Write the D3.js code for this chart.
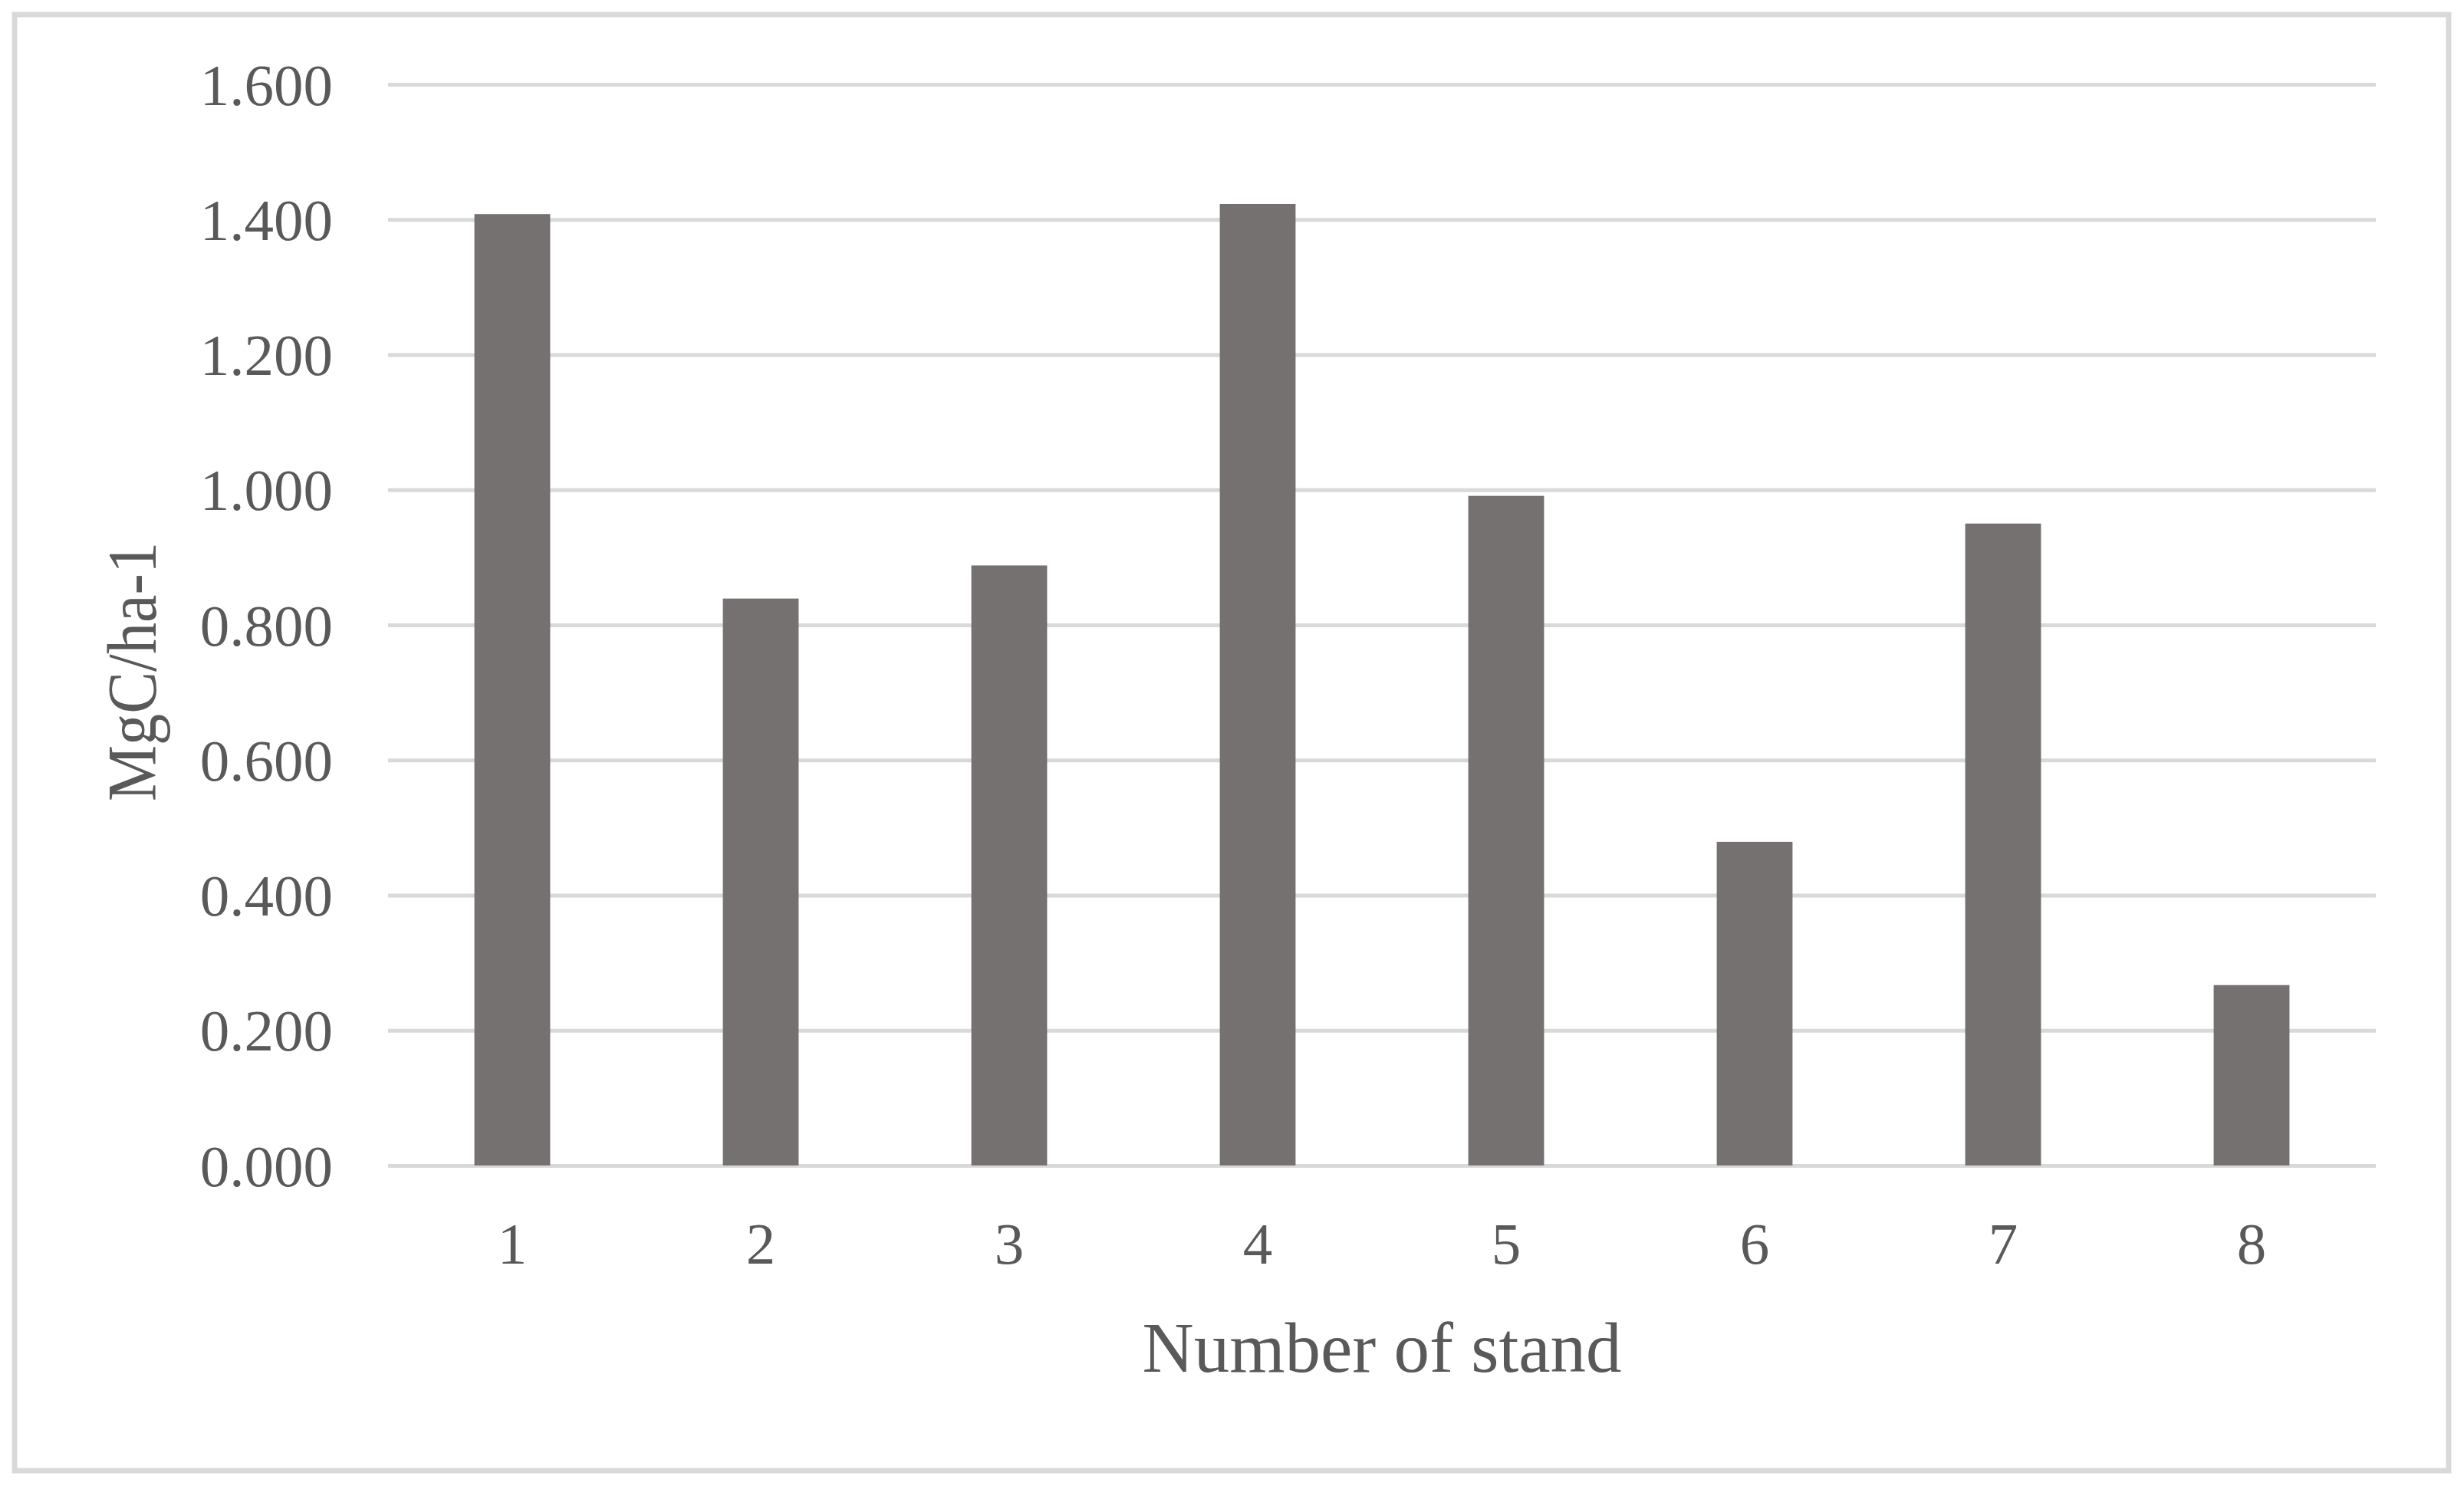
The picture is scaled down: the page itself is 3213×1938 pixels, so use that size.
<!DOCTYPE html>
<html>
<head>
<meta charset="utf-8">
<script src="https://cdn.jsdelivr.net/npm/d3@7"></script>
<style>
  html, body { margin: 0; padding: 0; background: #ffffff; }
  svg { display: block; }
</style>
</head>
<body>
<div id="chart"></div>
<script>
// ---- data ----
const categories = ["1", "2", "3", "4", "5", "6", "7", "8"];
const values = [1.408, 0.839, 0.888, 1.423, 0.991, 0.479, 0.950, 0.267];
const yTicks = [0, 0.2, 0.4, 0.6, 0.8, 1.0, 1.2, 1.4, 1.6];
const xTitle = "Number of stand";
const yTitle = "MgC/ha-1";

// ---- layout ----
const W = 3213, H = 1938;
const plotLeft = 506, plotRight = 3098, plotTop = 110, plotBottom = 1520;
const textColor = "#595959";
const gridColor = "#d9d9d9";
const barColor = "#767171";
const fontFamily = "'Liberation Serif', 'DejaVu Serif', serif";

const svg = d3.select("#chart").append("svg")
  .attr("width", W).attr("height", H);

// outer border
svg.append("rect")
  .attr("x", 19).attr("y", 19)
  .attr("width", 3174).attr("height", 1899)
  .attr("fill", "#ffffff")
  .attr("stroke", gridColor)
  .attr("stroke-width", 7);

const x = d3.scaleBand()
  .domain(categories)
  .range([plotLeft, plotRight])
  .paddingInner(0.695)
  .paddingOuter(0.3475);

const y = d3.scaleLinear()
  .domain([0, 1.6])
  .range([plotBottom, plotTop]);

// gridlines via axis
const yAxis = d3.axisLeft(y)
  .tickValues(yTicks)
  .tickSize(-(plotRight - plotLeft))
  .tickPadding(72)
  .tickFormat(d3.format(".3f"));

const gy = svg.append("g")
  .attr("transform", `translate(${plotLeft},0)`)
  .call(yAxis);
gy.select(".domain").remove();
gy.selectAll(".tick line")
  .attr("stroke", gridColor)
  .attr("stroke-width", 5);
gy.selectAll(".tick text")
  .attr("fill", textColor)
  .attr("font-family", fontFamily)
  .attr("font-size", 77)
  .attr("dy", "0.34em");

// bars
svg.append("g")
  .selectAll("rect")
  .data(values)
  .join("rect")
  .attr("x", (d, i) => x(categories[i]))
  .attr("y", d => y(d))
  .attr("width", x.bandwidth())
  .attr("height", d => y(0) - y(d))
  .attr("fill", barColor);

// x axis labels
const xAxis = d3.axisBottom(x).tickSize(0).tickPadding(0);
const gx = svg.append("g")
  .attr("transform", `translate(0,${plotBottom})`)
  .call(xAxis);
gx.select(".domain").remove();
gx.selectAll(".tick text")
  .attr("fill", textColor)
  .attr("font-family", fontFamily)
  .attr("font-size", 77)
  .attr("dy", null)
  .attr("y", 128);

// x title
svg.append("text")
  .attr("x", (plotLeft + plotRight) / 2)
  .attr("y", 1789)
  .attr("text-anchor", "middle")
  .attr("fill", textColor)
  .attr("font-family", fontFamily)
  .attr("font-size", 93)
  .text(xTitle);

// y title
svg.append("text")
  .attr("transform", `translate(203,876) rotate(-90)`)
  .attr("text-anchor", "middle")
  .attr("fill", textColor)
  .attr("font-family", fontFamily)
  .attr("font-size", 90)
  .attr("textLength", 338)
  .attr("lengthAdjust", "spacingAndGlyphs")
  .text(yTitle);
</script>
</body>
</html>
